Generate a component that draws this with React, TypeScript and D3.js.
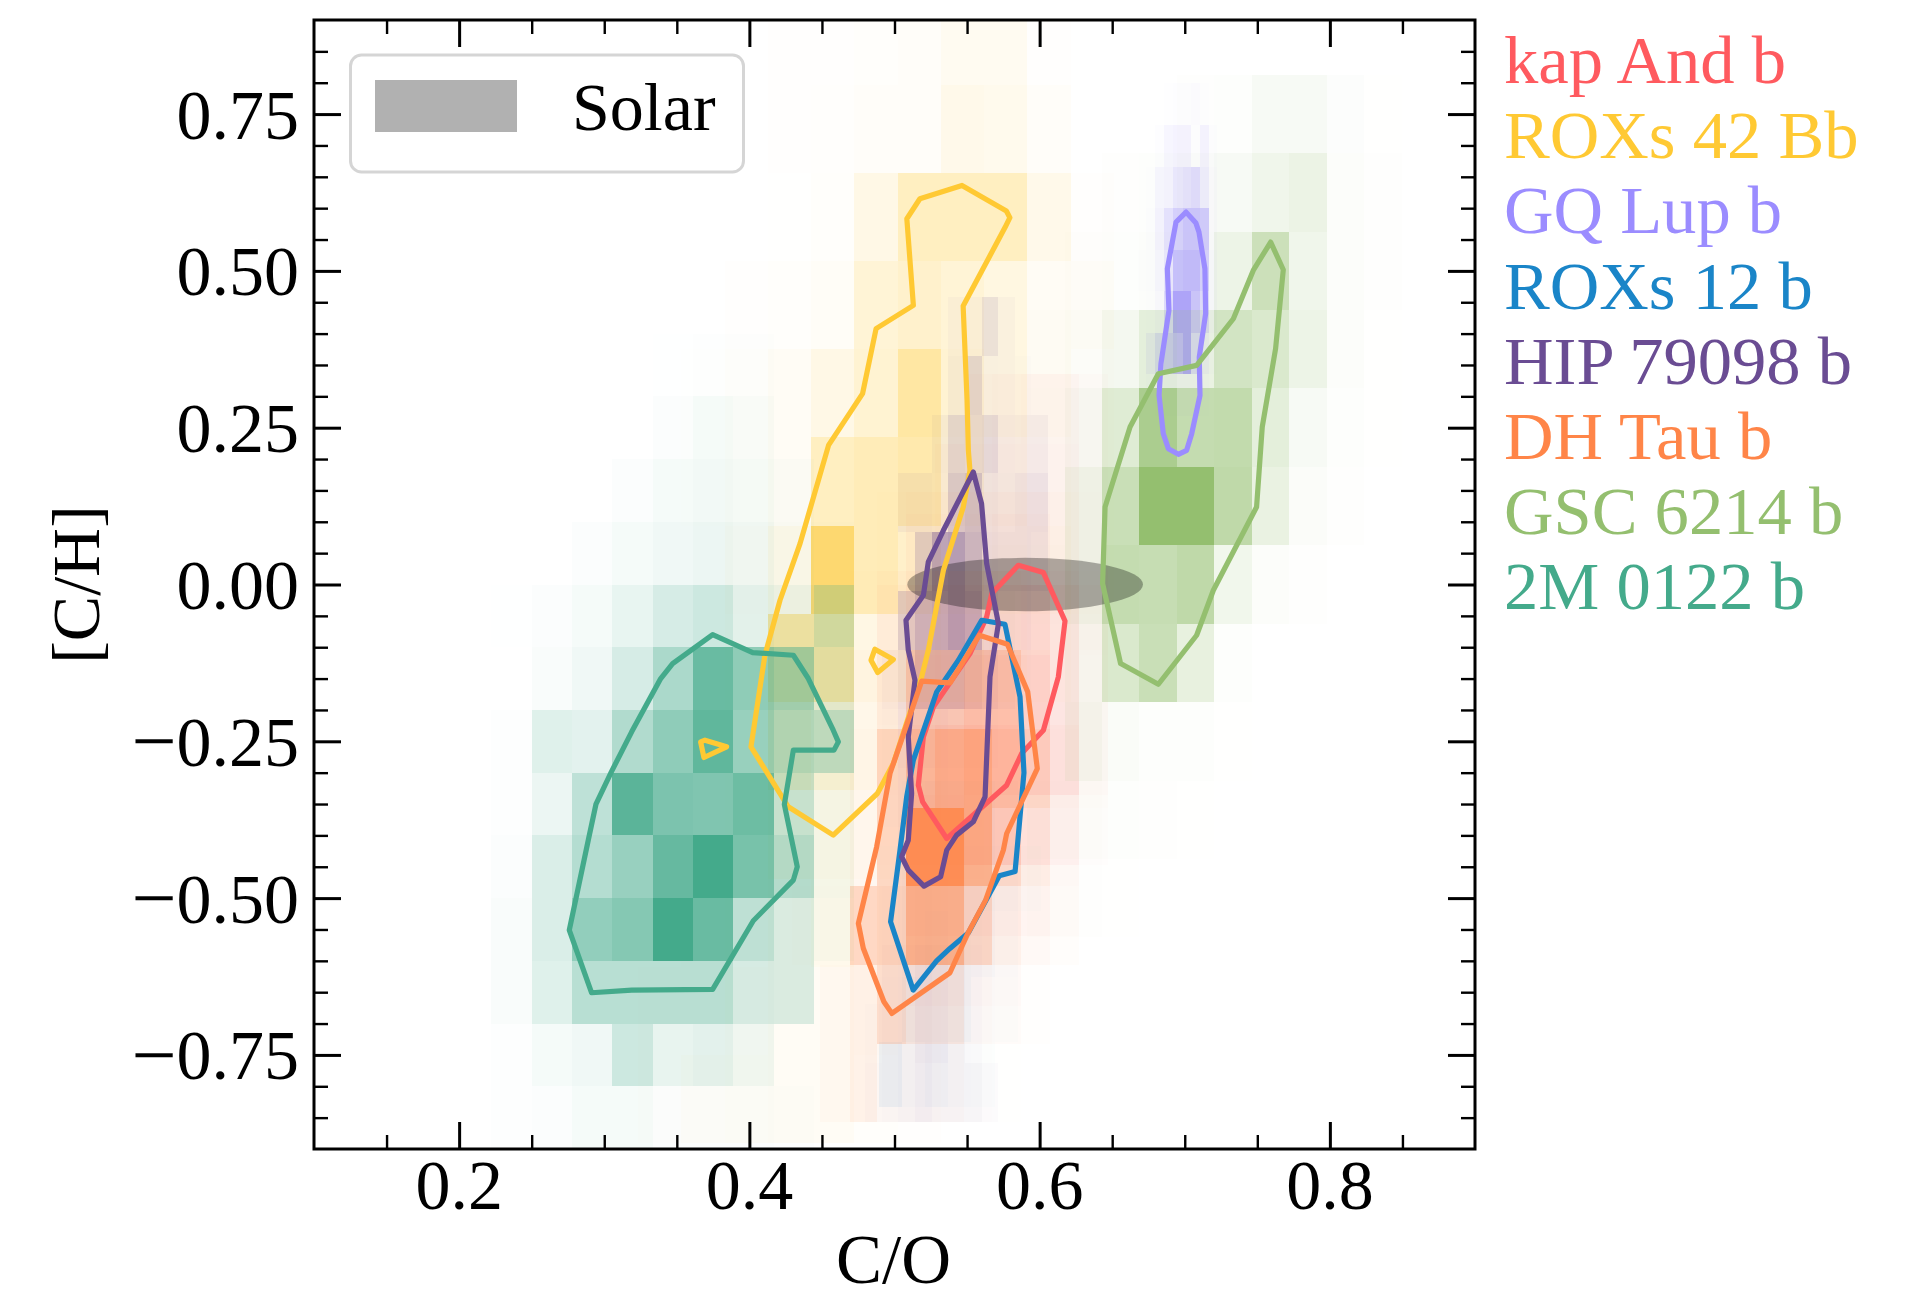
import React, { useEffect, useRef } from "react";
import * as d3 from "d3";

// contour vertices are [C/O, [C/H]]
const names = ["kap And b", "ROXs 42 Bb", "GQ Lup b", "ROXs 12 b", "HIP 79098 b", "DH Tau b", "GSC 6214 b", "2M 0122 b"];
const colors = ["#ff5a5f", "#ffc933", "#9b8cff", "#1a85c8", "#6a4c93", "#ff8548", "#94bf6f", "#44aa8b"];
const xMajor = [0.2, 0.4, 0.6, 0.8];
const xMinor = [0.15, 0.25, 0.3, 0.35, 0.45, 0.5, 0.55, 0.65, 0.7, 0.75, 0.85];
const yMajor = [-0.75, -0.5, -0.25, 0, 0.25, 0.5, 0.75];
const yMinor = [-0.85, -0.8, -0.7, -0.65, -0.6, -0.55, -0.45, -0.4, -0.35, -0.3, -0.2, -0.15, -0.1, -0.05, 0.05, 0.1, 0.15, 0.2, 0.3, 0.35, 0.4, 0.45, 0.55, 0.6, 0.65, 0.7, 0.8, 0.85];
const solar = { co: 0.59, ch: 0, rx: 0.0812, ry: 0.0425 };

const kapX = [0.488, 0.508, 0.528, 0.548, 0.567, 0.587, 0.607, 0.627, 0.647];
const kapY = [0.336, 0.224, 0.112, 0, -0.112, -0.224, -0.336, -0.448, -0.56, -0.672];
const kapDensity = [
  [0, 0, 0, 0.02, 0.04, 0.05, 0.05, 0.02],
  [0, 0, 0.03, 0.04, 0.05, 0.06, 0.06, 0.02],
  [0, 0.03, 0.05, 0.06, 0.08, 0.08, 0.06, 0.02],
  [0.04, 0.08, 0.1, 0.12, 0.15, 0.18, 0.12, 0.04],
  [0.03, 0.1, 0.12, 0.18, 0.2, 0.22, 0.12, 0.03],
  [0.02, 0.15, 0.2, 0.25, 0.25, 0.22, 0.15, 0.03],
  [0.01, 0.2, 0.22, 0.22, 0.2, 0.12, 0.06, 0.01],
  [0, 0.08, 0.08, 0.06, 0.05, 0.03, 0.01, 0],
  [0, 0.03, 0.03, 0.02, 0.01, 0, 0, 0],
];
const kapContour = [[0.5853, 0.0306], [0.6026, 0.019], [0.6175, -0.0581], [0.6129, -0.1473], [0.6026, -0.2323], [0.5876, -0.2695], [0.5773, -0.32], [0.536, -0.405], [0.5194, -0.3465], [0.5164, -0.32], [0.5199, -0.2429], [0.5268, -0.1951], [0.552, -0.1101], [0.5635, -0.0517], [0.567, -0.0145]];

const roxs42X = [0.3233, 0.353, 0.3829, 0.4127, 0.4425, 0.4724, 0.5022, 0.532, 0.5618, 0.5916, 0.6214, 0.6512];
const roxs42Y = [0.937, 0.797, 0.656, 0.516, 0.375, 0.2344, 0.0938, -0.0469, -0.1875, -0.328, -0.469, -0.61, -0.75, -0.89];
const roxs42Density = [
  [0, 0, 0, 0.01, 0.01, 0.02, 0.03, 0.07, 0.07, 0.01, 0],
  [0, 0, 0, 0.01, 0.015, 0.03, 0.03, 0.1, 0.09, 0.03, 0],
  [0, 0, 0, 0.005, 0.02, 0.12, 0.3, 0.3, 0.3, 0.1, 0.01],
  [0, 0, 0.01, 0.02, 0.04, 0.2, 0.25, 0.2, 0.15, 0.05, 0.03],
  [0, 0.005, 0.02, 0.05, 0.12, 0.22, 0.45, 0.22, 0.15, 0.05, 0.01],
  [0, 0.005, 0.02, 0.05, 0.3, 0.35, 0.4, 0.2, 0.1, 0.03, 0.01],
  [0, 0, 0.03, 0.1, 0.7, 0.35, 0.25, 0.15, 0.08, 0.05, 0.01],
  [0, 0, 0.02, 0.45, 0.45, 0.12, 0.15, 0.1, 0.05, 0.02, 0],
  [0, 0, 0.02, 0.25, 0.2, 0.08, 0.05, 0.03, 0.01, 0, 0],
  [0, 0, 0.02, 0.1, 0.1, 0.05, 0.05, 0.02, 0, 0, 0],
  [0, 0.01, 0.02, 0.05, 0.08, 0.03, 0.02, 0, 0, 0, 0],
  [0.01, 0.01, 0.03, 0.05, 0.05, 0.03, 0.01, 0, 0, 0, 0],
  [0.01, 0.03, 0.04, 0.05, 0.05, 0.02, 0.01, 0, 0, 0, 0],
];
const roxs42Contour = [[0.5465, 0.6363], [0.5771, 0.5954], [0.5795, 0.5848], [0.5763, 0.5699], [0.5473, 0.444], [0.55, 0.2936], [0.5509, 0.2139], [0.552, 0.182], [0.5474, 0.1236], [0.5337, 0.0227], [0.5233, -0.1048], [0.5187, -0.1473], [0.4992, -0.2854], [0.4882, -0.3332], [0.4578, -0.3996], [0.4268, -0.3544], [0.4011, -0.2588], [0.4107, -0.1128], [0.4211, -0.0251], [0.4349, 0.0652], [0.4546, 0.2222], [0.478, 0.3043], [0.4873, 0.4079], [0.513, 0.445], [0.5085, 0.5831], [0.5175, 0.615]];
const roxs42Islands = [
  [[0.3664, -0.2509], [0.3694, -0.2482], [0.3843, -0.2588], [0.3687, -0.2758]],
  [[0.4865, -0.1032], [0.4992, -0.1197], [0.4884, -0.1404], [0.4838, -0.1207]],
];

const gqX = [0.6613, 0.6675, 0.6736, 0.6797, 0.686, 0.692, 0.6985, 0.7045, 0.7105, 0.7165, 0.7225];
const gqY = [0.8, 0.733, 0.6664, 0.6, 0.5338, 0.4673, 0.4014, 0.335, 0.2686];
const gqDensity = [
  [0, 0, 0, 0, 0.01, 0.02, 0.02, 0.03, 0.01, 0],
  [0, 0, 0, 0.02, 0.08, 0.1, 0.1, 0.02, 0.1, 0.02],
  [0, 0, 0.01, 0.08, 0.1, 0.2, 0.25, 0.3, 0.15, 0.03],
  [0, 0, 0.02, 0.1, 0.25, 0.4, 0.5, 0.5, 0.45, 0.03],
  [0, 0.01, 0.02, 0.08, 0.2, 0.55, 0.6, 0.6, 0.4, 0.05],
  [0, 0, 0.01, 0.05, 0.3, 0.8, 0.8, 0.5, 0.3, 0.05],
  [0, 0, 0.12, 0.3, 0.45, 0.6, 0.8, 0.3, 0.1, 0.02],
  [0, 0, 0.02, 0.03, 0.05, 0.05, 0.05, 0.05, 0.02, 0],
];
const gqContour = [[0.7009, 0.5937], [0.7077, 0.5762], [0.7098, 0.5619], [0.7139, 0.5034], [0.7144, 0.4317], [0.71, 0.3627], [0.7105, 0.3016], [0.7048, 0.2405], [0.7013, 0.2139], [0.6956, 0.2076], [0.6887, 0.2166], [0.6852, 0.2405], [0.6823, 0.3016], [0.6836, 0.352], [0.6891, 0.437], [0.688, 0.5034], [0.694, 0.5778]];

const roxs12X = [0.489, 0.505, 0.521, 0.537, 0.553, 0.569, 0.585, 0.601];
const roxs12Y = [-0.313, -0.417, -0.521, -0.625, -0.729, -0.833];
const roxs12Density = [
  [0, 0.02, 0.03, 0.04, 0.04, 0.02, 0],
  [0.01, 0.03, 0.04, 0.05, 0.05, 0.03, 0.01],
  [0.01, 0.03, 0.06, 0.05, 0.04, 0.02, 0],
  [0.02, 0.05, 0.06, 0.05, 0.02, 0.01, 0],
  [0.07, 0.02, 0.04, 0.02, 0.01, 0, 0],
];
const roxs12Contour = [[0.5601, -0.057], [0.5761, -0.0634], [0.5865, -0.1792], [0.5892, -0.3], [0.5831, -0.4575], [0.5722, -0.4643], [0.551, -0.555], [0.5382, -0.5802], [0.529, -0.6], [0.5129, -0.6466], [0.4973, -0.5377], [0.5038, -0.4235], [0.5084, -0.3385], [0.513, -0.28], [0.5291, -0.1712], [0.544, -0.1208]];

const hipX = [0.4796, 0.4911, 0.5026, 0.5141, 0.5256, 0.537, 0.5486, 0.56, 0.5714, 0.583, 0.5944, 0.606];
const hipY = [0.459, 0.365, 0.271, 0.177, 0.084, -0.011, -0.105, -0.199, -0.293, -0.387, -0.481, -0.575, -0.669, -0.763, -0.857];
const hipDensity = [
  [0, 0, 0, 0, 0, 0.03, 0.03, 0.13, 0.03, 0, 0],
  [0, 0, 0, 0, 0, 0.05, 0.18, 0.04, 0.03, 0.01, 0],
  [0, 0, 0, 0, 0.05, 0.18, 0.15, 0.17, 0.06, 0.05, 0.05],
  [0, 0, 0.06, 0.06, 0.04, 0.25, 0.3, 0.1, 0.07, 0.1, 0.1],
  [0, 0, 0, 0.2, 0.45, 0.5, 0.35, 0.12, 0.1, 0.1, 0.08],
  [0, 0, 0.2, 0.35, 0.4, 0.5, 0.4, 0.1, 0.05, 0.03, 0],
  [0, 0.03, 0.1, 0.3, 0.3, 0.3, 0.2, 0.12, 0.05, 0.01, 0],
  [0, 0.01, 0.08, 0.08, 0.08, 0.05, 0.03, 0.01, 0, 0, 0],
  [0, 0.01, 0.05, 0.05, 0.05, 0.03, 0.01, 0, 0, 0, 0],
  [0, 0, 0.03, 0.05, 0.03, 0.02, 0, 0, 0, 0, 0],
  [0, 0.01, 0.03, 0.05, 0.04, 0.02, 0.01, 0, 0, 0, 0],
  [0, 0.03, 0.05, 0.1, 0.08, 0.05, 0.02, 0, 0, 0, 0],
  [0.01, 0.03, 0.05, 0.1, 0.08, 0.05, 0.02, 0, 0, 0, 0],
  [0.02, 0.03, 0.05, 0.08, 0.05, 0.05, 0.05, 0.02, 0, 0, 0],
];
const hipContour = [[0.5543, 0.1794], [0.56, 0.1289], [0.5635, 0.0333], [0.5716, -0.0623], [0.5658, -0.1473], [0.5624, -0.3386], [0.5543, -0.3784], [0.5428, -0.3996], [0.536, -0.4235], [0.5318, -0.466], [0.5203, -0.4809], [0.5095, -0.4554], [0.5049, -0.4341], [0.5095, -0.4076], [0.5118, -0.3332], [0.5095, -0.2429], [0.5141, -0.1526], [0.5095, -0.1048], [0.5079, -0.057], [0.5199, -0.0172], [0.5233, 0.0359], [0.5337, 0.0864]];

const dhX = [0.4292, 0.449, 0.469, 0.488, 0.508, 0.528, 0.548, 0.567, 0.587, 0.607, 0.627, 0.647];
const dhY = [0.147, 0.021, -0.105, -0.231, -0.357, -0.481, -0.607, -0.732, -0.857];
const dhDensity = [
  [0, 0, 0, 0.01, 0.03, 0.03, 0.03, 0.03, 0.03, 0.02, 0.01],
  [0, 0, 0.01, 0.05, 0.08, 0.1, 0.1, 0.1, 0.08, 0.05, 0.02],
  [0, 0.01, 0.03, 0.1, 0.3, 0.3, 0.35, 0.33, 0.1, 0.04, 0.01],
  [0, 0.01, 0.05, 0.3, 0.45, 0.55, 0.6, 0.4, 0.2, 0.05, 0.01],
  [0, 0.01, 0.05, 0.3, 0.92, 0.92, 0.6, 0.25, 0.1, 0.03, 0],
  [0.01, 0.02, 0.3, 0.35, 0.6, 0.6, 0.3, 0.1, 0.05, 0.02, 0],
  [0, 0.03, 0.1, 0.25, 0.15, 0.15, 0.05, 0.03, 0.01, 0, 0],
  [0, 0.03, 0.1, 0.03, 0.03, 0.03, 0.01, 0.005, 0, 0, 0],
];
const dhContour = [[0.5585, -0.0809], [0.5778, -0.0953], [0.5918, -0.1712], [0.5984, -0.2934], [0.5773, -0.397], [0.575, -0.4235], [0.5628, -0.5032], [0.5505, -0.5563], [0.5382, -0.619], [0.4982, -0.6838], [0.4927, -0.6652], [0.4785, -0.58], [0.4751, -0.5404], [0.4877, -0.4182], [0.4969, -0.3013], [0.5187, -0.1542], [0.5383, -0.1569]];

const gscX = [0.5654, 0.5912, 0.6175, 0.6428, 0.6686, 0.6945, 0.7204, 0.7462, 0.7718, 0.798, 0.8238, 0.8496];
const gscY = [0.8125, 0.6875, 0.5625, 0.4375, 0.3125, 0.1875, 0.0625, -0.0625, -0.1875, -0.3125, -0.4375, -0.5625];
const gscDensity = [
  [0, 0, 0, 0, 0, 0.01, 0.02, 0.07, 0.07, 0.025, 0.005],
  [0, 0, 0, 0.01, 0.02, 0.04, 0.07, 0.14, 0.18, 0.03, 0.01],
  [0, 0, 0.01, 0.02, 0.03, 0.05, 0.17, 0.48, 0.14, 0.03, 0.01],
  [0, 0.01, 0.03, 0.1, 0.25, 0.2, 0.42, 0.35, 0.17, 0.03, 0.005],
  [0, 0.02, 0.07, 0.3, 0.78, 0.55, 0.57, 0.25, 0.07, 0.02, 0.005],
  [0, 0.02, 0.15, 0.5, 1, 1, 0.6, 0.2, 0.04, 0.01, 0],
  [0.01, 0.03, 0.15, 0.55, 0.53, 0.6, 0.13, 0.03, 0.01, 0, 0],
  [0.01, 0.02, 0.08, 0.35, 0.5, 0.22, 0.02, 0, 0, 0, 0],
  [0.01, 0.02, 0.1, 0.05, 0.02, 0.02, 0.005, 0, 0, 0, 0],
  [0.005, 0.03, 0.03, 0.02, 0.01, 0.005, 0, 0, 0, 0, 0],
  [0, 0.01, 0.01, 0.005, 0, 0, 0, 0, 0, 0, 0],
];
const gscContour = [[0.7592, 0.5459], [0.7679, 0.5018], [0.7626, 0.376], [0.7534, 0.2511], [0.7495, 0.1236], [0.7197, -0.0092], [0.7082, -0.0809], [0.6818, -0.159], [0.6558, -0.1261], [0.6434, 0.0014], [0.6451, 0.1236], [0.6623, 0.2511], [0.6818, 0.3361], [0.7082, 0.3494], [0.7335, 0.4237], [0.7472, 0.5008]];

const twoMX = [0.1944, 0.2222, 0.25, 0.2778, 0.3056, 0.3333, 0.3611, 0.3889, 0.4167, 0.4444, 0.4722, 0.5];
const twoMY = [0.4, 0.3, 0.2, 0.1, 0, -0.1, -0.2, -0.3, -0.4, -0.5, -0.6, -0.7, -0.8, -0.9];
const twoMDensity = [
  [0, 0, 0, 0, 0, 0.005, 0.01, 0.01, 0, 0, 0],
  [0, 0, 0, 0, 0, 0.02, 0.05, 0.03, 0, 0, 0],
  [0, 0, 0, 0, 0.02, 0.05, 0.07, 0.05, 0.02, 0, 0],
  [0, 0, 0, 0.02, 0.05, 0.08, 0.1, 0.08, 0.03, 0.01, 0],
  [0, 0.005, 0.02, 0.05, 0.12, 0.22, 0.27, 0.15, 0.1, 0.25, 0],
  [0, 0, 0.03, 0.08, 0.22, 0.45, 0.8, 0.6, 0.5, 0.15, 0],
  [0, 0.01, 0.17, 0.15, 0.42, 0.6, 0.85, 0.55, 0.42, 0.35, 0],
  [0, 0.01, 0.1, 0.35, 0.88, 0.7, 0.68, 0.78, 0.3, 0.05, 0],
  [0, 0.02, 0.2, 0.4, 0.55, 0.82, 1, 0.72, 0.4, 0.05, 0],
  [0, 0.03, 0.2, 0.58, 0.65, 1, 0.8, 0.35, 0.2, 0.03, 0],
  [0, 0.03, 0.17, 0.38, 0.38, 0.38, 0.38, 0.22, 0.2, 0, 0],
  [0, 0.01, 0.05, 0.08, 0.27, 0.12, 0.15, 0.08, 0, 0, 0],
  [0, 0.01, 0.02, 0.05, 0.05, 0.02, 0.02, 0.02, 0.01, 0, 0],
];
const twoMContour = [[0.3747, -0.0798], [0.4023, -0.1085], [0.4303, -0.1128], [0.4406, -0.1499], [0.4578, -0.2323], [0.4613, -0.2509], [0.4583, -0.2641], [0.4303, -0.2641], [0.4241, -0.3507], [0.433, -0.4501], [0.4303, -0.4713], [0.4027, -0.5361], [0.3747, -0.6456], [0.3189, -0.6466], [0.2913, -0.6509], [0.2759, -0.551], [0.289, -0.4076], [0.2943, -0.3502], [0.3049, -0.2987], [0.3189, -0.2349], [0.3389, -0.1499], [0.3471, -0.126]];

const histograms = [
  { xs: kapX, ys: kapY, density: kapDensity },
  { xs: roxs42X, ys: roxs42Y, density: roxs42Density },
  { xs: gqX, ys: gqY, density: gqDensity },
  { xs: roxs12X, ys: roxs12Y, density: roxs12Density },
  { xs: hipX, ys: hipY, density: hipDensity },
  { xs: dhX, ys: dhY, density: dhDensity },
  { xs: gscX, ys: gscY, density: gscDensity },
  { xs: twoMX, ys: twoMY, density: twoMDensity },
];
const contours = [
  [kapContour],
  [roxs42Contour, ...roxs42Islands],
  [gqContour],
  [roxs12Contour],
  [hipContour],
  [dhContour],
  [gscContour],
  [twoMContour],
];

const WIDTH = 1911;
const HEIGHT = 1292;
const FONT = '"Liberation Serif", "Times New Roman", serif';
const margin = { top: 20, right: 436, bottom: 143, left: 314 };

export default function App() {
  const ref = useRef<SVGSVGElement>(null);

  useEffect(() => {
    const svg = d3.select(ref.current);
    svg.selectAll("*").remove();

    const left = margin.left;
    const right = WIDTH - margin.right;
    const top = margin.top;
    const bottom = HEIGHT - margin.bottom;

    const x = d3.scaleLinear().domain([0.1, 0.9]).range([left, right]);
    const y = d3.scaleLinear().domain([-0.9, 0.9]).range([bottom, top]);

    const plot = svg.append("g");
    plot.append("clipPath").attr("id", "plot-clip").append("rect")
      .attr("x", left).attr("y", top).attr("width", right - left).attr("height", bottom - top);

    // histograms first, contours over them
    const cells = plot.append("g").attr("clip-path", "url(#plot-clip)");
    histograms.forEach((h, s) => {
      const g = cells.append("g").attr("fill", colors[s]);
      h.density.forEach((row, r) => {
        row.forEach((a, c) => {
          if (!a) return;
          g.append("rect")
            .attr("x", x(h.xs[c]))
            .attr("y", y(h.ys[r]))
            .attr("width", x(h.xs[c + 1]) - x(h.xs[c]))
            .attr("height", y(h.ys[r + 1]) - y(h.ys[r]))
            .attr("fill-opacity", a)
            .attr("shape-rendering", "crispEdges");
        });
      });
    });

    plot.append("ellipse")
      .attr("cx", x(solar.co))
      .attr("cy", y(solar.ch))
      .attr("rx", x(solar.co + solar.rx) - x(solar.co))
      .attr("ry", y(solar.ch - solar.ry) - y(solar.ch))
      .attr("fill", "#000")
      .attr("fill-opacity", 0.31);

    const line = d3.line<number[]>()
      .x(d => x(d[0]))
      .y(d => y(d[1]))
      .curve(d3.curveLinearClosed);

    contours.forEach((paths, s) => {
      paths.forEach(p => {
        plot.append("path")
          .attr("d", line(p as number[][]))
          .attr("fill", "none")
          .attr("stroke", colors[s])
          .attr("stroke-width", 5.2)
          .attr("stroke-linejoin", "round");
      });
    });

    // legend box
    const legend = svg.append("g");
    legend.append("rect")
      .attr("x", 350.5).attr("y", 55).attr("width", 393).attr("height", 117).attr("rx", 11)
      .attr("fill", "#fff").attr("fill-opacity", 0.8)
      .attr("stroke", "#d5d5d5").attr("stroke-width", 3);
    legend.append("rect")
      .attr("x", 375).attr("y", 80).attr("width", 142).attr("height", 52)
      .attr("fill", "#b1b1b1");
    legend.append("text")
      .attr("x", 572).attr("y", 130).attr("font-size", 68)
      .attr("font-family", FONT).attr("fill", "#000").text("Solar");

    // four sided inward ticks
    const drawAxis = (axis: any, tx: number, ty: number) => {
      const g = svg.append("g").attr("transform", `translate(${tx},${ty})`).call(axis);
      g.select(".domain").remove();
      return g;
    };
    const ticks = [
      { vals: xMajor, len: 27, w: 3 },
      { vals: xMinor, len: 14, w: 2.4 },
    ];
    ticks.forEach(t => {
      const gb = drawAxis(d3.axisBottom(x).tickValues(t.vals).tickSize(-t.len).tickFormat(() => ""), 0, bottom);
      const gt = drawAxis(d3.axisTop(x).tickValues(t.vals).tickSize(-t.len).tickFormat(() => ""), 0, top);
      [gb, gt].forEach(g => g.selectAll("line").attr("stroke", "#000").attr("stroke-width", t.w));
    });
    const yTicks = [
      { vals: yMajor, len: 27, w: 3 },
      { vals: yMinor, len: 14, w: 2.4 },
    ];
    yTicks.forEach(t => {
      const gl = drawAxis(d3.axisLeft(y).tickValues(t.vals).tickSize(-t.len).tickFormat(() => ""), left, 0);
      const gr = drawAxis(d3.axisRight(y).tickValues(t.vals).tickSize(-t.len).tickFormat(() => ""), right, 0);
      [gl, gr].forEach(g => g.selectAll("line").attr("stroke", "#000").attr("stroke-width", t.w));
    });

    svg.append("rect")
      .attr("x", left).attr("y", top).attr("width", right - left).attr("height", bottom - top)
      .attr("fill", "none").attr("stroke", "#000").attr("stroke-width", 3);

    // tick labels
    const xLabels = svg.append("g").attr("font-family", FONT).attr("font-size", 70).attr("text-anchor", "middle");
    xMajor.forEach(v => {
      xLabels.append("text").attr("x", x(v)).attr("y", bottom + 60).text(d3.format(".1f")(v));
    });
    const yLabels = svg.append("g").attr("font-family", FONT).attr("font-size", 70).attr("text-anchor", "end");
    yMajor.forEach(v => {
      const t = yLabels.append("text").attr("x", 299).attr("y", y(v) + 24.5);
      const s = d3.format(".2f")(Math.abs(v));
      if (v < 0) {
        // the minus in the reference is wider than this font's
        t.append("tspan").attr("font-size", 80).attr("dy", 2.5).text("\u2212");
        t.append("tspan").attr("dy", -2.5).text(s);
      } else {
        t.text(s);
      }
    });

    svg.append("text")
      .attr("x", (left + right) / 2 - 1).attr("y", 1283)
      .attr("font-family", FONT).attr("font-size", 69).attr("text-anchor", "middle")
      .text("C/O");
    svg.append("text")
      .attr("transform", `translate(99,${(top + bottom) / 2}) rotate(-90)`)
      .attr("font-family", FONT).attr("font-size", 68).attr("text-anchor", "middle")
      .text("[C/H]");

    // planet names, right of the axes
    const names_ = svg.append("g").attr("font-family", FONT).attr("font-size", 68.6);
    names.forEach((n, i) => {
      names_.append("text")
        .attr("x", 1504)
        .attr("y", 83 + i * 75.2)
        .attr("fill", colors[i])
        .text(n);
    });
  }, []);

  return (
    <svg
      ref={ref}
      width={WIDTH}
      height={HEIGHT}
      style={{ position: "absolute", left: 0, top: 0, display: "block", background: "#fff" }}
    />
  );
}
